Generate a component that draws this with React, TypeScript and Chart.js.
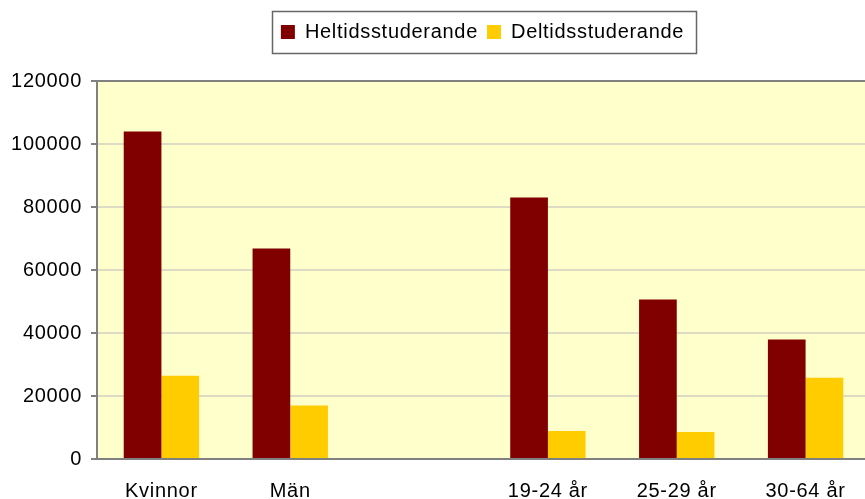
import React, { useEffect, useRef } from "react";
import { Chart, registerables } from "chart.js";

Chart.register(...registerables);

const categories = ["Kvinnor", "Män", "", "19-24 år", "25-29 år", "30-64 år"];
const heltid = [104000, 66800, null, 83000, 50600, 37900];
const deltid = [26400, 17000, null, 8900, 8600, 25800];
const seriesNames = ["Heltidsstuderande", "Deltidsstuderande"];
const yMin = 0;
const yMax = 120000;
const yStep = 20000;

const FONT = "'Liberation Sans', Arial, sans-serif";
const LETTER_SPACING = "0.7px";

const spacingPlugin = {
  id: "spacing",
  beforeUpdate(chart: any) {
    chart.ctx.letterSpacing = LETTER_SPACING;
  },
  beforeDraw(chart: any) {
    chart.ctx.letterSpacing = LETTER_SPACING;
  },
};

const bgPlugin = {
  id: "plotBg",
  beforeDraw(chart: any) {
    const { ctx, chartArea } = chart;
    ctx.save();
    ctx.fillStyle = "#FFFFCC";
    ctx.fillRect(chartArea.left, chartArea.top, chartArea.right - chartArea.left, chartArea.bottom - chartArea.top);
    ctx.restore();
  },
};

const LEGEND_CENTER = 482.5;

const legendShiftPlugin = {
  id: "legendShift",
  afterLayout(chart: any) {
    const lg = chart.legend;
    if (!lg) return;
    const dx = LEGEND_CENTER - (lg.left + lg.right) / 2;
    lg.left += dx;
    lg.right += dx;
  },
};

const legendBoxPlugin = {
  id: "legendBox",
  afterDraw(chart: any) {
    const lg = chart.legend;
    if (!lg || !lg.legendHitBoxes || !lg.legendHitBoxes.length) return;
    const hb = lg.legendHitBoxes;
    const first = hb[0];
    const last = hb[hb.length - 1];
    const { ctx } = chart;
    ctx.save();
    ctx.strokeStyle = "#666666";
    ctx.lineWidth = 1.5;
    const left = first.left - 9;
    const right = last.left + last.width + 12;
    const top = lg.top - 2;
    const bottom = lg.top + lg.height + 1;
    ctx.strokeRect(Math.round(left) + 0.5, Math.round(top) + 0.5, Math.round(right - left), Math.round(bottom - top));
    ctx.restore();
  },
};

export default function App() {
  const ref = useRef<HTMLCanvasElement>(null);
  useEffect(() => {
    if (!ref.current) return;
    const chart = new Chart(ref.current, {
      type: "bar",
      data: {
        labels: categories,
        datasets: [
          { label: seriesNames[0], data: heltid, backgroundColor: "#800000", borderWidth: 0 },
          { label: seriesNames[1], data: deltid, backgroundColor: "#FFCC00", borderWidth: 0 },
        ],
      },
      options: {
        responsive: false,
        animation: false,
        devicePixelRatio: 1,
        layout: { padding: { top: 13, left: 0, right: 0, bottom: 0 } },
        datasets: { bar: { categoryPercentage: 0.585, barPercentage: 1.0 } },
        plugins: {
          legend: {
            display: true,
            position: "top",
            labels: {
              boxWidth: 14,
              boxHeight: 14,
              padding: 9,
              color: "#000",
              font: { family: FONT, size: 20 },
            },
          },
          tooltip: { enabled: false },
        },
        scales: {
          x: {
            type: "category",
            position: "bottom",
            grid: { display: false, drawTicks: false },
            border: { display: true, color: "#808080", width: 2 },
            ticks: { color: "#000", font: { family: FONT, size: 20 }, padding: 20, maxRotation: 0, autoSkip: false },
            afterFit: (s: any) => { s.height = 40; },
          },
          x2: {
            type: "category",
            position: "top",
            display: true,
            grid: { display: false, drawTicks: false },
            border: { display: false },
            ticks: { display: false },
            afterFit: (s: any) => { s.height = 29; },
          },
          y: {
            min: yMin,
            max: yMax,
            ticks: {
              stepSize: yStep,
              color: "#000",
              font: { family: FONT, size: 20 },
              padding: 9,
              callback: (v: any) => String(v),
            },
            grid: {
              color: (c: any) => (c.tick && c.tick.value === yMax ? "#808080" : "#DCDCC4"),
              lineWidth: 2,
              tickLength: 6,
              tickColor: "#808080",
            },
            border: { display: true, color: "#808080", width: 2 },
            afterFit: (s: any) => { s.width = 97; },
          },
        },
      },
      plugins: [spacingPlugin, bgPlugin, legendShiftPlugin, legendBoxPlugin],
    } as any);
    return () => chart.destroy();
  }, []);
  return (
    <div style={{ position: "fixed", left: 0, top: 0, width: 865, height: 499, overflow: "hidden", background: "#fff" }}>
      <canvas ref={ref} width={870} height={499} style={{ width: 870, height: 499, display: "block" }} />
    </div>
  );
}
